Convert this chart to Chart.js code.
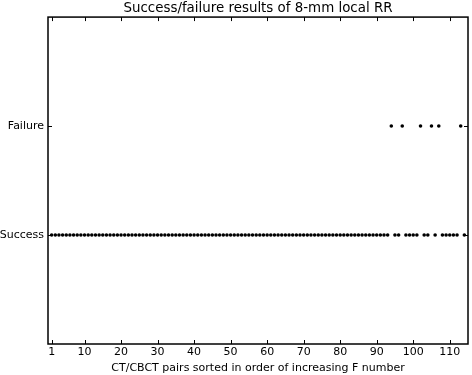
<!DOCTYPE html>
<html lang="en">
<head>
    <meta charset="UTF-8">
    <title>Success/failure results</title>
    <script src="https://cdn.jsdelivr.net/npm/chart.js"></script>
    <style>
        body { margin: 0; background: #fff; }
    </style>
</head>
<body>
    <canvas id="myChart" width="472" height="375"></canvas>
    <script>
        // outcome per CT/CBCT pair (1..114): 0 = Success, 1 = Failure
        const outcomes = [
            0, 0, 0, 0, 0, 0, 0, 0, 0, 0,
            0, 0, 0, 0, 0, 0, 0, 0, 0, 0,
            0, 0, 0, 0, 0, 0, 0, 0, 0, 0,
            0, 0, 0, 0, 0, 0, 0, 0, 0, 0,
            0, 0, 0, 0, 0, 0, 0, 0, 0, 0,
            0, 0, 0, 0, 0, 0, 0, 0, 0, 0,
            0, 0, 0, 0, 0, 0, 0, 0, 0, 0,
            0, 0, 0, 0, 0, 0, 0, 0, 0, 0,
            0, 0, 0, 0, 0, 0, 0, 0, 0, 0,
            0, 0, 0, 1, 0, 0, 1, 0, 0, 0,
            0, 1, 0, 0, 1, 0, 1, 0, 0, 0,
            0, 0, 1, 0
        ];
        const outcomeLabels = ['Success', 'Failure'];
        const xTickValues = [1, 10, 20, 30, 40, 50, 60, 70, 80, 90, 100, 110];

        const points = outcomes.map((v, i) => ({ x: i + 1, y: v }));

        const fontFamily = '"DejaVu Sans", sans-serif';

        // matplotlib-like frame with inward ticks on all sides
        const framePlugin = {
            id: 'frame',
            afterDraw(chart) {
                const ctx = chart.ctx;
                const a = chart.chartArea;
                const xs = chart.scales.x;
                const ys = chart.scales.y;
                const len = 4;
                ctx.save();
                ctx.strokeStyle = '#000';
                ctx.lineWidth = 1;
                ctx.beginPath();
                xTickValues.forEach(v => {
                    const px = Math.round(xs.getPixelForValue(v)) + 0.5;
                    ctx.moveTo(px, a.bottom); ctx.lineTo(px, a.bottom - len);
                    ctx.moveTo(px, a.top); ctx.lineTo(px, a.top + len);
                });
                [0, 1].forEach(v => {
                    const py = Math.round(ys.getPixelForValue(v)) + 0.5;
                    ctx.moveTo(a.left, py); ctx.lineTo(a.left + len, py);
                    ctx.moveTo(a.right, py); ctx.lineTo(a.right - len, py);
                });
                ctx.stroke();
                ctx.lineWidth = 1.5;
                ctx.strokeRect(a.left, a.top, a.right - a.left, a.bottom - a.top);
                ctx.restore();
            }
        };

        const ctx = document.getElementById('myChart').getContext('2d');
        new Chart(ctx, {
            type: 'scatter',
            data: {
                datasets: [{
                    data: points,
                    backgroundColor: '#000',
                    borderColor: '#000',
                    pointRadius: 1.8,
                    borderWidth: 0
                }]
            },
            options: {
                responsive: false,
                animation: false,
                layout: { padding: { left: 0, right: 3, top: 0, bottom: 0 } },
                plugins: {
                    legend: { display: false },
                    tooltip: { enabled: false },
                    title: {
                        display: true,
                        fullSize: false,
                        text: 'Success/failure results of 8-mm local RR',
                        color: '#000',
                        font: { family: fontFamily, size: 13.4, weight: 'normal' },
                        padding: { top: 0, bottom: 1 }
                    }
                },
                scales: {
                    x: {
                        type: 'linear',
                        min: 0,
                        max: 115,
                        grid: { display: false, drawTicks: false },
                        border: { display: false },
                        afterBuildTicks: s => { s.ticks = xTickValues.map(v => ({ value: v })); },
                        afterFit: s => { s.height = 31; },
                        ticks: {
                            color: '#000',
                            padding: 2,
                            maxRotation: 0,
                            autoSkip: false,
                            font: { family: fontFamily, size: 11 }
                        },
                        title: {
                            display: true,
                            text: 'CT/CBCT pairs sorted in order of increasing F number',
                            color: '#000',
                            padding: 0,
                            font: { family: fontFamily, size: 11 }
                        }
                    },
                    y: {
                        type: 'linear',
                        min: -1,
                        max: 2,
                        grid: { display: false, drawTicks: false },
                        border: { display: false },
                        afterBuildTicks: s => { s.ticks = [{ value: 0 }, { value: 1 }]; },
                        afterFit: s => { s.width = 48; },
                        ticks: {
                            color: '#000',
                            padding: 4,
                            autoSkip: false,
                            font: { family: fontFamily, size: 11 },
                            callback: v => outcomeLabels[v]
                        }
                    }
                }
            },
            plugins: [framePlugin]
        });
    </script>
</body>
</html>
